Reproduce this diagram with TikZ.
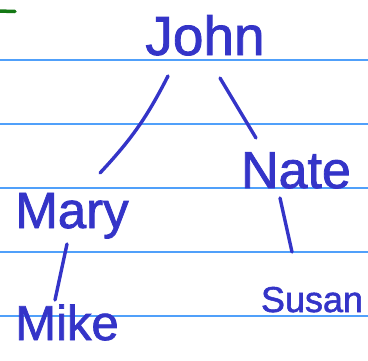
\documentclass[tikz,border=0pt]{standalone}
\usepackage{fontspec}
\setmainfont{Liberation Sans}[FakeBold=1.5]
\usetikzlibrary{calc}
\definecolor{ink}{RGB}{52,52,200}
\definecolor{rule}{RGB}{80,160,250}
\definecolor{marker}{RGB}{20,120,20}
\tikzset{
  person/.style={text=ink, inner sep=0pt, anchor=base, font=\bfseries},
  edge/.style={draw=ink, line width=3.4pt, line cap=round},
  ruling/.style={draw=rule, line width=1.4pt}
}
\begin{document}
\begin{tikzpicture}[x=1pt,y=-1pt]
\useasboundingbox (0,0) rectangle (368,360);
\fill[white] (0,0) rectangle (368,360);
\foreach \yy in {60,124,188,252,316} \draw[ruling] (0,\yy) -- (368,\yy);
\draw[draw=marker, line width=3.5pt, line cap=round] (-2,11) -- (15,11.5);
\node[person, font=\fontsize{55}{55}\selectfont] (John) at (205,55) {John};
\node[person, font=\fontsize{51}{51}\selectfont] (Mary) at (72,228) {Mary};
\node[person, font=\fontsize{52}{52}\selectfont] (Nate) at (296,188) {Nate};
\node[person, font=\fontsize{49}{49}\selectfont] (Mike) at (67,340) {Mike};
\node[person, font=\fontsize{36}{36}\selectfont] (Susan) at (312,312) {Susan};
\draw[edge] ($(John.base)+(-37,21)$) to[bend left=8] ($(Mary.base)+(28,-55)$);
\draw[edge] ($(John.base)+(15,23)$) -- ($(Nate.base)+(-40,-50)$);
\draw[edge] ($(Mary.base)+(-5,16)$) -- ($(Mike.base)+(-12,-40)$);
\draw[edge] ($(Nate.base)+(-16,10)$) -- ($(Susan.base)+(-20,-60)$);
\end{tikzpicture}
\end{document}
